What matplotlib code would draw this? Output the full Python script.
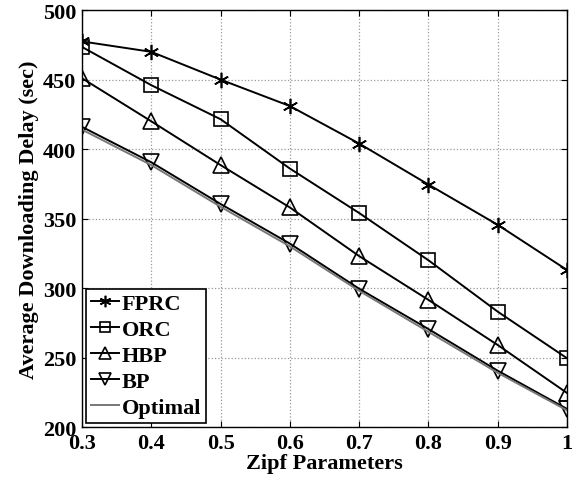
import matplotlib
matplotlib.use("Agg")
import matplotlib.pyplot as plt

x = [0.3, 0.4, 0.5, 0.6, 0.7, 0.8, 0.9, 1.0]
fprc = [477.5, 470, 450, 431, 404, 374.5, 345.5, 313]
orc = [473.5, 446, 421.5, 386, 354, 320, 283, 249.5]
hbp = [451, 420, 388.5, 358, 323, 291.5, 259, 224.5]
bp = [416, 390.5, 360.5, 332, 299.5, 270.5, 240.5, 213]
optimal = [414, 388.5, 358.5, 330, 298, 268.5, 239, 212]

xticks = [0.3, 0.4, 0.5, 0.6, 0.7, 0.8, 0.9, 1.0]
xticklabels = ["0.3", "0.4", "0.5", "0.6", "0.7", "0.8", "0.9", "1"]
yticks = [200, 250, 300, 350, 400, 450, 500]

plt.rcParams['font.family'] = ['Liberation Serif', 'DejaVu Serif']
plt.rcParams['font.weight'] = 'bold'

fig = plt.figure(figsize=(5.83, 4.85), dpi=100)
ax = fig.add_axes([0.1407, 0.1175, 0.8319, 0.8595])

kw = dict(color='black', lw=1.4, mfc='none', mec='black', mew=1.2)
ax.plot(x, fprc, marker=(6, 2, 0), ms=11, label='FPRC', **kw)
ax.plot(x, orc, marker='s', ms=10, label='ORC', **kw)
ax.plot(x, hbp, marker='^', ms=12, label='HBP', **kw)
ax.plot(x, bp, marker='v', ms=12, label='BP', **kw)
ax.plot(x, optimal, color='#777777', lw=1.4, label='Optimal')

ax.set_xlim(0.3, 1.0)
ax.set_ylim(200, 500)
ax.set_xticks(xticks)
ax.set_xticklabels(xticklabels)
ax.set_yticks(yticks)
ax.tick_params(direction='in', labelsize=16, length=4, top=True, right=True, pad=4)
for lab in ax.get_xticklabels() + ax.get_yticklabels():
    lab.set_fontweight('bold')
ax.grid(True, linestyle=':', color='#999999', lw=0.9)
for s in ax.spines.values():
    s.set_linewidth(1.0)

ax.set_xlabel('Zipf Parameters', fontsize=16, fontweight='bold', labelpad=0)
ax.set_ylabel('Average Downloading Delay (sec)', fontsize=16, fontweight='bold', labelpad=3)

leg = ax.legend(loc='lower left', frameon=True, fancybox=False,
                edgecolor='black', framealpha=1, borderpad=0.2, labelspacing=0.25,
                handlelength=1.25, handletextpad=0.15, borderaxespad=0.2,
                markerscale=0.75, prop={'weight': 'bold', 'size': 16})
leg.get_frame().set_linewidth(1.2)

fig.savefig('out.png', dpi=100)
